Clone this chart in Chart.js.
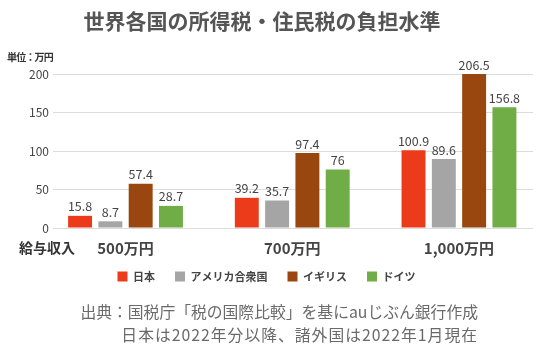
<!DOCTYPE html>
<html><head><meta charset="utf-8">
<script src="https://cdn.jsdelivr.net/npm/chart.js@4"></script>
<style>html,body{margin:0;padding:0;background:#fff}#wrap{width:560px;height:360px;position:relative}</style>
</head><body><div id="wrap"><canvas id="c" width="560" height="360"></canvas></div>
<script>
const categories = ['500万円', '700万円', '1,000万円'];
const seriesNames = ['日本', 'アメリカ合衆国', 'イギリス', 'ドイツ'];
const japan = [15.8, 39.2, 100.9];
const usa = [8.7, 35.7, 89.6];
const uk = [57.4, 97.4, 206.5];
const germany = [28.7, 76, 156.8];
const yTicks = [0, 50, 100, 150, 200];
const titleText = '世界各国の所得税・住民税の負担水準';
const unitText = '単位：万円';
const axisLabel = '給与収入';
const noteLines = ['出典：国税庁「税の国際比較」を基にauじぶん銀行作成', '日本は2022年分以降、諸外国は2022年1月現在'];

const colors = ['#EB3B1A', '#A5A5A5', '#9A470F', '#70AD47'];
const FONT = '"Noto Sans CJK JP", sans-serif';
const seriesValues = [japan, usa, uk, germany];

const extras = {
  id: 'extras',
  afterLayout(chart) {
    const lg = chart.legend;
    if (lg) { lg.top -= 9; lg.bottom -= 9; }
  },
  afterDraw(chart) {
    const ctx = chart.ctx;
    ctx.save();
    ctx.fillStyle = '#555';
    ctx.font = 'bold 21px ' + FONT;
    ctx.textAlign = 'center'; ctx.textBaseline = 'middle';
    ctx.fillText(titleText, 262, 21);
    ctx.fillStyle = '#333';
    ctx.font = 'bold 10px ' + FONT;
    ctx.textAlign = 'left';
    ctx.letterSpacing = '-0.8px';
    ctx.fillText(unitText, 7, 57);
    ctx.letterSpacing = '0px';
    ctx.font = 'bold 14px ' + FONT;
    ctx.fillText(axisLabel, 19, 248);
    ctx.fillStyle = '#6a6a6a';
    ctx.font = '15.8px ' + FONT;
    ctx.textAlign = 'right';
    ctx.fillText(noteLines[0], 478, 312);
    ctx.letterSpacing = '1px';
    ctx.fillText(noteLines[1], 478, 335);
    ctx.letterSpacing = '0px';
    // data labels
    ctx.fillStyle = '#444';
    ctx.font = '12.5px ' + FONT;
    ctx.textAlign = 'center'; ctx.textBaseline = 'bottom';
    chart.data.datasets.forEach((ds, di) => {
      const meta = chart.getDatasetMeta(di);
      meta.data.forEach((bar, i) => {
        const top = Math.max(bar.y, chart.chartArea.top);
        ctx.fillText(String(seriesValues[di][i]), bar.x, top - 3);
      });
    });
    ctx.restore();
  }
};

new Chart(document.getElementById('c'), {
  type: 'bar',
  data: {
    datasets: seriesNames.map((n, k) => ({
      label: n,
      data: seriesValues[k].map((v, i) => ({ x: i, y: v })),
      backgroundColor: colors[k],
      borderWidth: 0,
      categoryPercentage: 0.727,
      barPercentage: 0.79
    }))
  },
  options: {
    responsive: false,
    animation: false,
    layout: { padding: { top: 74, right: 27, left: 0, bottom: 59 } },
    scales: {
      x: {
        type: 'linear', min: -0.435, max: 2.444, offset: false,
        grid: { display: false, drawTicks: false, offset: false },
        border: { display: false },
        afterBuildTicks(s) { s.ticks = categories.map((c, i) => ({ value: i })); },
        ticks: {
          callback: (v) => categories[v],
          font: { family: FONT, size: 15, weight: 'bold' },
          color: '#444', padding: 11, maxRotation: 0, autoSkip: false
        },
        afterFit(s) { s.height = 32; }
      },
      y: {
        min: 0, max: 200,
        afterBuildTicks(s) { s.ticks = yTicks.map(v => ({ value: v })); },
        grid: { color: '#dcdcdc', drawTicks: false },
        border: { display: false },
        ticks: { font: { family: FONT, size: 12 }, color: '#444', padding: 4 },
        afterFit(s) { s.width = 53; }
      }
    },
    plugins: {
      legend: {
        position: 'bottom',
        labels: {
          boxWidth: 10, boxHeight: 10, padding: 20,
          font: { family: FONT, size: 11, weight: 'bold' }, color: '#444'
        }
      },
      title: { display: false },
      tooltip: { enabled: false }
    }
  },
  plugins: [extras]
});
</script></body></html>
